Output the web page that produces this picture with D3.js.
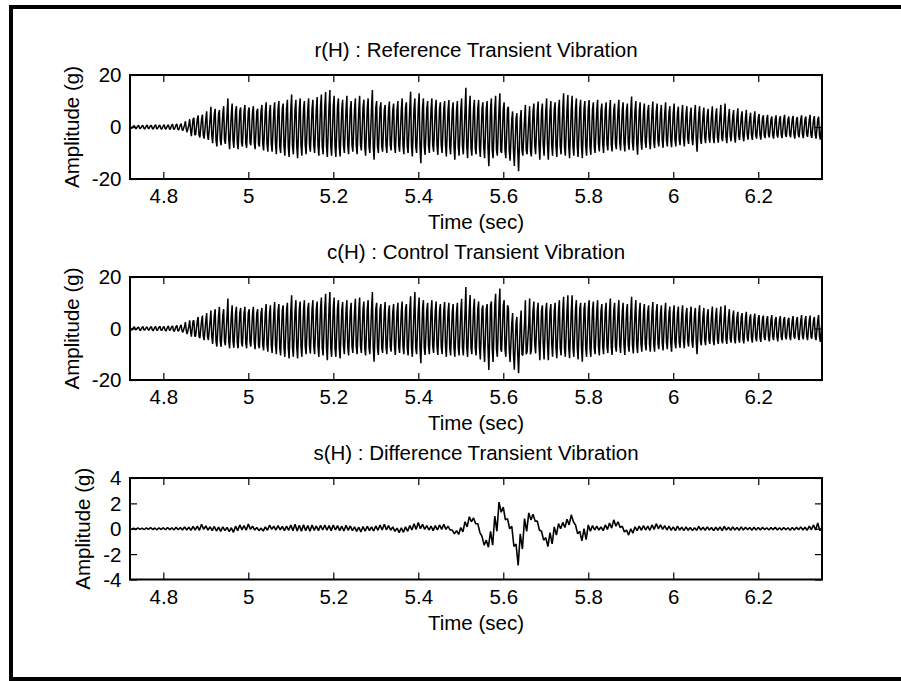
<html lang="en">

<head>
  <meta charset="UTF-8">
  <title>Transient Vibration</title>
  <script src="https://d3js.org/d3.v7.min.js"></script>
</head>

<style>
  body {
    margin: 0;
    background: #fff;
  }

  text {
    font-family: "Liberation Sans", Arial, sans-serif;
    font-size: 20.5px;
    fill: #000;
  }

  .axis .domain {
    stroke: none;
  }

  .axis line {
    stroke: #000;
    stroke-width: 1.2;
  }
</style>

<body>
  <svg class="vibsvg" width="901" height="681"></svg>
  <script>
    // samples are binned every 10 ms, starting at 4.72 s; each bin keeps its max (hi) and min (lo)
    const tStart = 4.72;
    const tStep = 0.01;
    // the dense core of the trace (where most cycles stay) read every 50 ms
    const coreStep = 5;

    const titles = ['r(H) : Reference Transient Vibration', 'c(H) : Control Transient Vibration', 's(H) : Difference Transient Vibration'];
    const xTicks = [4.8, 5, 5.2, 5.4, 5.6, 5.8, 6, 6.2];
    const yTicksBig = [-20, 0, 20];
    const yTicksSmall = [-4, -2, 0, 2, 4];

    const rHi = [0.6, 0.5, 0.7, 0.6, 0.8, 0.6, 0.9, 0.7, 0.9, 0.8, 1.0, 1.1, 1.3,
      2.2, 3.0, 3.5, 4.5, 4.8, 6.0, 7.8, 7.0, 6.5, 8.0, 11.0, 9.0, 8.0, 7.5, 8.5,
      7.5, 8.0, 7.0, 8.5, 9.5, 8.5, 9.5, 10.0, 9.0, 10.5, 12.5, 10.5, 11.0, 10.0, 11.0, 10.5, 11.5, 12.5, 13.5, 14.2,
      12.0, 11.0, 10.5, 12.0, 10.0, 11.0, 12.0, 10.5, 11.0, 14.2, 10.0, 9.5, 8.5, 9.8, 9.0, 10.0, 11.0, 9.5, 13.6, 11.0,
      13.0, 11.0, 10.0, 11.0, 10.5, 9.5, 10.0, 10.4, 9.5, 10.0, 11.0, 15.1, 12.0, 10.5, 10.4, 9.5, 10.0, 11.0, 12.0, 13.0,
      9.5, 7.8, 6.0, 5.3, 6.5, 8.5, 8.0, 9.0, 9.8, 9.0, 11.0, 10.0, 9.5, 10.5, 13.0, 12.3, 12.0, 11.0, 10.5, 10.0,
      10.4, 9.5, 10.5, 9.0, 9.5, 10.4, 9.0, 10.5, 9.5, 9.0, 11.7, 10.0, 9.5, 9.0, 8.5, 9.8, 9.0, 8.5, 9.5, 8.0,
      9.0, 7.8, 8.5, 8.0, 7.5, 8.5, 8.0, 7.5, 7.0, 8.0, 7.2, 8.5, 9.0, 7.0, 6.5, 7.2, 6.0, 6.6, 5.5, 6.0,
      5.0, 4.5, 4.7, 4.0, 4.5, 4.2, 4.7, 4.0, 4.3, 3.8, 4.5, 4.0, 4.7, 4.2, 4.0, 3.0];
    const rLo = [-0.5, -0.7, -0.6, -0.8, -0.6, -0.8, -0.7, -0.9, -0.8, -1.0, -0.9, -1.2, -1.4,
      -2.0, -3.5, -3.0, -4.0, -4.5, -5.0, -6.2, -7.5, -7.0, -6.5, -8.5, -8.0, -8.5, -7.5, -8.0,
      -7.0, -8.5, -7.5, -9.0, -9.5, -9.5, -10.5, -10.0, -11.0, -11.5, -10.5, -12.0, -11.0, -10.5, -9.5, -10.0, -11.0, -10.5, -11.5, -11.0,
      -11.5, -11.3, -10.0, -10.5, -9.5, -10.5, -9.0, -11.0, -10.0, -12.6, -10.0, -9.5, -10.0, -9.0, -10.0, -9.5, -10.5, -10.0, -11.3, -10.0,
      -13.9, -10.7, -10.0, -9.5, -10.7, -10.0, -11.3, -10.5, -12.6, -11.0, -10.5, -12.0, -11.0, -10.5, -11.5, -12.0, -15.1, -12.0, -11.0, -10.0,
      -12.0, -13.0, -15.0, -17.0, -11.0, -10.5, -11.3, -10.5, -12.6, -11.0, -12.6, -11.0, -11.5, -10.5, -11.0, -12.0, -11.0, -11.5, -12.0, -11.0,
      -10.7, -10.0, -9.4, -10.0, -9.0, -9.4, -8.5, -9.0, -9.4, -8.7, -9.0, -10.7, -8.7, -8.0, -8.5, -8.1, -7.5, -8.0, -7.5, -7.8,
      -7.5, -7.0, -7.5, -6.5, -7.0, -9.5, -6.5, -6.2, -6.0, -6.2, -6.0, -5.5, -6.2, -5.5, -6.0, -5.0, -5.5, -4.9, -5.0, -4.5,
      -4.9, -4.3, -4.0, -4.5, -4.0, -4.3, -3.8, -4.0, -4.5, -4.0, -4.3, -3.8, -4.2, -4.5, -4.9, -4.5];
    const rCoreHi = [0.4, 0.5, 0.8, 3.0, 5.0, 6.0, 6.0, 7.0, 7.0, 8.0, 7.0, 7.5, 6.5, 7.5, 7.0, 6.5, 7.0,
      7.0, 3.0, 6.0, 7.0, 7.0, 6.5, 6.5, 6.0, 5.5, 5.0, 4.5, 4.0, 3.5, 3.0, 3.0, 2.8];
    const rCoreLo = [-0.4, -0.5, -0.8, -3.0, -5.0, -6.0, -6.5, -7.5, -7.0, -7.5, -7.0, -7.5, -7.0, -7.5, -7.0, -7.5, -8.0,
      -9.0, -9.0, -7.0, -7.5, -7.5, -6.5, -6.0, -5.5, -5.0, -4.5, -4.0, -3.5, -3.0, -3.0, -2.8, -3.0];

    const cHi = [0.6, 0.7, 0.5, 0.8, 0.6, 0.7, 0.8, 0.9, 0.7, 1.0, 0.9, 1.2, 1.4,
      2.5, 3.2, 3.0, 4.5, 5.0, 6.0, 7.0, 7.5, 8.4, 7.5, 11.6, 9.0, 8.4, 8.0, 8.4,
      7.5, 8.4, 7.5, 8.0, 9.5, 9.0, 10.3, 9.5, 9.0, 10.0, 12.9, 11.0, 10.5, 11.0, 10.0, 11.0, 10.5, 12.0, 13.5, 14.2,
      12.0, 11.0, 10.3, 11.0, 10.0, 11.5, 12.0, 10.5, 11.0, 14.2, 10.0, 9.5, 10.3, 9.0, 9.5, 10.0, 10.5, 9.5, 12.5, 14.2,
      12.0, 11.0, 10.0, 11.0, 10.5, 9.5, 10.3, 10.0, 9.5, 10.0, 11.5, 16.1, 13.0, 11.5, 10.5, 9.0, 9.5, 10.5, 13.5, 15.5,
      11.0, 8.0, 6.0, 4.5, 7.0, 11.0, 11.6, 10.5, 10.0, 9.0, 10.0, 9.5, 10.0, 11.0, 12.3, 12.9, 12.9, 11.0, 10.0, 10.0,
      11.0, 10.5, 11.0, 9.5, 10.0, 11.6, 10.0, 11.0, 10.0, 9.5, 12.3, 11.0, 10.0, 9.5, 9.0, 10.3, 9.5, 9.0, 10.0, 8.5,
      9.0, 8.5, 9.0, 8.0, 8.5, 8.0, 9.0, 8.0, 7.5, 8.5, 8.0, 8.5, 9.0, 7.5, 7.0, 6.5, 6.0, 6.5, 5.5, 5.8,
      5.2, 5.0, 4.8, 5.2, 4.5, 4.8, 4.5, 4.2, 4.8, 4.5, 5.2, 4.8, 5.0, 4.5, 5.2, 3.5];
    const cLo = [-0.6, -0.5, -0.8, -0.6, -0.7, -0.9, -0.7, -0.8, -1.0, -0.8, -1.1, -1.0, -1.5,
      -2.2, -3.2, -3.0, -3.8, -4.5, -4.5, -6.0, -7.0, -7.1, -6.5, -7.7, -7.5, -7.7, -7.0, -7.7,
      -7.0, -8.0, -7.7, -8.5, -9.0, -9.5, -10.0, -10.5, -11.0, -11.6, -11.0, -11.6, -11.0, -10.0, -9.7, -10.0, -11.0, -10.5, -12.3, -11.0,
      -11.0, -11.6, -10.0, -10.5, -9.5, -10.0, -9.5, -10.5, -10.0, -12.9, -10.3, -9.5, -10.0, -9.0, -10.3, -9.5, -10.0, -10.5, -11.0, -10.0,
      -13.5, -10.3, -10.0, -9.5, -10.3, -10.0, -11.0, -10.5, -11.0, -10.5, -10.5, -11.0, -10.0, -10.5, -12.0, -13.0, -16.1, -13.0, -11.0, -9.0,
      -11.0, -13.0, -16.0, -17.4, -10.5, -9.0, -8.5, -9.7, -12.3, -12.0, -12.3, -11.0, -11.5, -10.5, -11.0, -11.5, -11.0, -12.0, -12.9, -11.0,
      -11.0, -10.0, -10.5, -10.0, -9.5, -10.3, -9.0, -9.5, -10.3, -9.0, -9.7, -9.5, -9.0, -8.5, -9.0, -9.0, -8.0, -8.5, -8.0, -9.0,
      -7.7, -7.5, -7.7, -7.0, -7.5, -10.0, -6.5, -6.5, -6.0, -6.5, -6.0, -5.8, -6.0, -5.5, -5.8, -5.5, -5.8, -5.0, -5.5, -5.0,
      -5.2, -4.5, -5.0, -4.5, -5.0, -4.5, -4.2, -4.5, -4.0, -4.5, -4.2, -4.5, -4.0, -4.5, -5.2, -5.0];
    const cCoreHi = [0.4, 0.5, 0.8, 3.0, 5.0, 6.0, 6.0, 7.0, 7.5, 8.0, 7.0, 7.5, 6.5, 7.5, 7.0, 6.5, 7.5,
      9.0, 2.0, 7.0, 7.0, 7.5, 7.0, 6.5, 6.5, 6.0, 5.5, 5.0, 4.5, 4.0, 3.5, 3.2, 3.2];
    const cCoreLo = [-0.4, -0.5, -0.8, -3.0, -5.0, -5.5, -6.5, -7.5, -7.0, -7.5, -7.0, -7.5, -7.0, -7.5, -7.0, -7.5, -7.5,
      -8.0, -10.0, -6.0, -7.5, -7.5, -7.0, -6.5, -6.0, -5.5, -5.0, -4.5, -4.0, -3.5, -3.2, -3.0, -3.2];

    const sHi = [0.06, 0.05, 0.07, 0.05, 0.06, 0.08, 0.06, 0.07, 0.08, 0.10, 0.08, 0.12, 0.10,
      0.15, 0.12, 0.18, 0.20, 0.35, 0.22, 0.15, 0.18, 0.12, 0.15, 0.10, 0.08, 0.20, 0.30, 0.25,
      0.38, 0.20, 0.10, 0.05, 0.15, 0.28, 0.20, 0.25, 0.18, 0.20, 0.30, 0.35, 0.28, 0.32, 0.25, 0.30, 0.22, 0.28, 0.30, 0.25,
      0.30, 0.25, 0.20, 0.28, 0.22, 0.15, 0.12, 0.18, 0.20, 0.15, 0.22, 0.30, 0.35, 0.25, 0.15, 0.05, 0.08, 0.15, 0.25, 0.40,
      0.50, 0.35, 0.25, 0.20, 0.25, 0.30, 0.35, 0.20, -0.10, -0.15, 0.10, 0.55, 0.95, 0.85, 0.40, -0.60, -0.90, -0.20, 1.00, 2.10,
      1.70, 0.80, 0.20, -1.20, -0.40, 0.80, 1.25, 1.15, 0.60, -0.20, -0.70, -0.30, 0.15, 0.40, 0.50, 0.75, 1.10, 0.30, -0.20, 0.00,
      0.30, 0.25, 0.20, 0.15, 0.30, 0.45, 0.70, 0.55, 0.20, -0.10, 0.00, 0.15, 0.20, 0.25, 0.20, 0.30, 0.40, 0.30, 0.25, 0.20,
      0.15, 0.20, 0.12, 0.15, 0.10, 0.08, 0.18, 0.12, 0.15, 0.10, 0.12, 0.15, 0.18, 0.12, 0.15, 0.10, 0.15, 0.12, 0.10, 0.12,
      0.10, 0.12, 0.08, 0.10, 0.12, 0.08, 0.10, 0.08, 0.10, 0.12, 0.15, 0.12, 0.20, 0.30, 0.45, 0.10];
    const sLo = [-0.05, -0.06, -0.05, -0.07, -0.05, -0.06, -0.08, -0.06, -0.08, -0.07, -0.10, -0.08, -0.10,
      -0.10, -0.12, -0.10, -0.12, -0.05, -0.10, -0.15, -0.18, -0.20, -0.15, -0.22, -0.28, -0.15, -0.08, -0.12,
      -0.05, -0.10, -0.15, -0.18, -0.12, -0.05, -0.10, -0.08, -0.15, -0.12, -0.15, -0.18, -0.20, -0.15, -0.20, -0.12, -0.15, -0.10, -0.12, -0.15,
      -0.10, -0.15, -0.18, -0.12, -0.15, -0.20, -0.25, -0.20, -0.15, -0.18, -0.12, -0.10, -0.08, -0.12, -0.20, -0.30, -0.28, -0.20, -0.10, -0.05,
      0.00, -0.05, -0.10, -0.15, -0.10, -0.05, -0.05, -0.10, -0.40, -0.45, -0.25, 0.15, 0.55, 0.40, -0.30, -1.30, -1.45, -1.30, -0.20, 1.30,
      0.70, 0.00, -1.40, -2.90, -1.60, -0.20, 0.70, 0.60, -0.10, -0.90, -1.40, -1.20, -0.50, 0.00, 0.10, 0.30, 0.55, -0.40, -0.95, -0.85,
      -0.20, -0.10, -0.10, -0.15, -0.05, 0.05, 0.20, 0.10, -0.25, -0.50, -0.35, -0.15, -0.12, -0.10, -0.12, -0.05, 0.00, -0.05, -0.10, -0.12,
      -0.15, -0.10, -0.15, -0.12, -0.15, -0.12, -0.10, -0.12, -0.10, -0.15, -0.12, -0.15, -0.10, -0.12, -0.10, -0.12, -0.10, -0.08, -0.12, -0.10,
      -0.10, -0.08, -0.10, -0.08, -0.10, -0.10, -0.08, -0.12, -0.10, -0.08, -0.10, -0.12, -0.08, -0.10, -0.15, -0.50];

    const svg = d3.select('svg.vibsvg');
    const plotLeft = 130;
    const plotRight = 822;

    // frame round the figure (left, top, bottom edges only)
    svg.append('path')
      .attr('d', 'M11,681 L11,7 L901,7 M9,679 L901,679')
      .attr('fill', 'none')
      .attr('stroke', '#000')
      .attr('stroke-width', 4);

    const xScale = d3.scaleLinear().domain([4.7216, 6.35]).range([plotLeft, plotRight]);
    const fmt = d => String(d);

    const panels = [
      { title: titles[0], hi: rHi, lo: rLo, coreHi: rCoreHi, coreLo: rCoreLo, yDomain: [-20, 20], yTicks: yTicksBig, top: 75, bottom: 179, lw: 1.5 },
      { title: titles[1], hi: cHi, lo: cLo, coreHi: cCoreHi, coreLo: cCoreLo, yDomain: [-20, 20], yTicks: yTicksBig, top: 277, bottom: 380, lw: 1.5 },
      { title: titles[2], hi: sHi, lo: sLo, coreHi: null, coreLo: null, yDomain: [-4, 4], yTicks: yTicksSmall, top: 478, bottom: 579.5, lw: 1.6 }
    ];

    panels.forEach((p, k) => {
      const yScale = d3.scaleLinear().domain(p.yDomain).range([p.bottom, p.top]);
      const g = svg.append('g');

      g.append('clipPath').attr('id', 'clip' + k)
        .append('rect')
        .attr('x', plotLeft).attr('y', p.top)
        .attr('width', plotRight - plotLeft).attr('height', p.bottom - p.top);

      const n = Math.min(p.hi.length, p.lo.length);
      const pts = [];
      for (let i = 0; i < n; i++) {
        const t = tStart + i * tStep;
        if (p.coreHi) {
          // spike up out of the core, back through it, spike down
          const j = Math.min(Math.floor(i / coreStep), p.coreHi.length - 1);
          pts.push([t, p.coreHi[j]]);
          pts.push([t + tStep * 0.2, p.hi[i]]);
          pts.push([t + tStep * 0.4, p.coreLo[j]]);
          pts.push([t + tStep * 0.6, p.lo[i]]);
        } else {
          pts.push([t, p.hi[i]]);
          pts.push([t + tStep / 2, p.lo[i]]);
        }
      }
      const line = d3.line().x(d => xScale(d[0])).y(d => yScale(d[1]));
      g.append('path')
        .attr('clip-path', `url(#clip${k})`)
        .attr('d', line(pts))
        .attr('fill', 'none')
        .attr('stroke', '#000')
        .attr('stroke-width', p.lw)
        .attr('stroke-linejoin', 'bevel');

      // axes, ticks point inwards on all four sides
      const bottomAxis = d3.axisBottom(xScale).tickValues(xTicks).tickSizeInner(-7).tickSizeOuter(0).tickFormat(fmt);
      const bx = g.append('g').attr('class', 'axis')
        .attr('transform', `translate(0,${p.bottom})`)
        .call(bottomAxis);
      bx.selectAll('text').attr('y', 24).attr('dy', null);

      g.append('g').attr('class', 'axis')
        .attr('transform', `translate(0,${p.top})`)
        .call(d3.axisTop(xScale).tickValues(xTicks).tickSizeInner(-7).tickSizeOuter(0).tickFormat(''));

      const ly = g.append('g').attr('class', 'axis')
        .attr('transform', `translate(${plotLeft},0)`)
        .call(d3.axisLeft(yScale).tickValues(p.yTicks).tickSizeInner(-7).tickSizeOuter(0).tickFormat(fmt));
      ly.selectAll('text').attr('x', -8.5).attr('dy', '0.34em');

      g.append('g').attr('class', 'axis')
        .attr('transform', `translate(${plotRight},0)`)
        .call(d3.axisRight(yScale).tickValues(p.yTicks).tickSizeInner(-7).tickSizeOuter(0).tickFormat(''));

      g.append('rect')
        .attr('x', plotLeft).attr('y', p.top)
        .attr('width', plotRight - plotLeft).attr('height', p.bottom - p.top)
        .attr('fill', 'none')
        .attr('stroke', '#000')
        .attr('stroke-width', 2);

      const cx = (plotLeft + plotRight) / 2;
      g.append('text')
        .attr('x', cx).attr('y', p.top - 18)
        .attr('text-anchor', 'middle')
        .text(p.title);

      g.append('text')
        .attr('x', cx).attr('y', p.bottom + 50)
        .attr('text-anchor', 'middle')
        .text('Time (sec)');

      // y label sits just left of the widest tick label
      let minX = plotLeft;
      ly.selectAll('text').each(function () {
        const b = this.getBBox();
        minX = Math.min(minX, plotLeft + b.x);
      });
      const labelX = minX - 13;
      const cy = (p.top + p.bottom) / 2;
      g.append('text')
        .attr('transform', `translate(${labelX},${cy}) rotate(-90)`)
        .attr('text-anchor', 'middle')
        .text('Amplitude (g)');
    });
  </script>
</body>

</html>
